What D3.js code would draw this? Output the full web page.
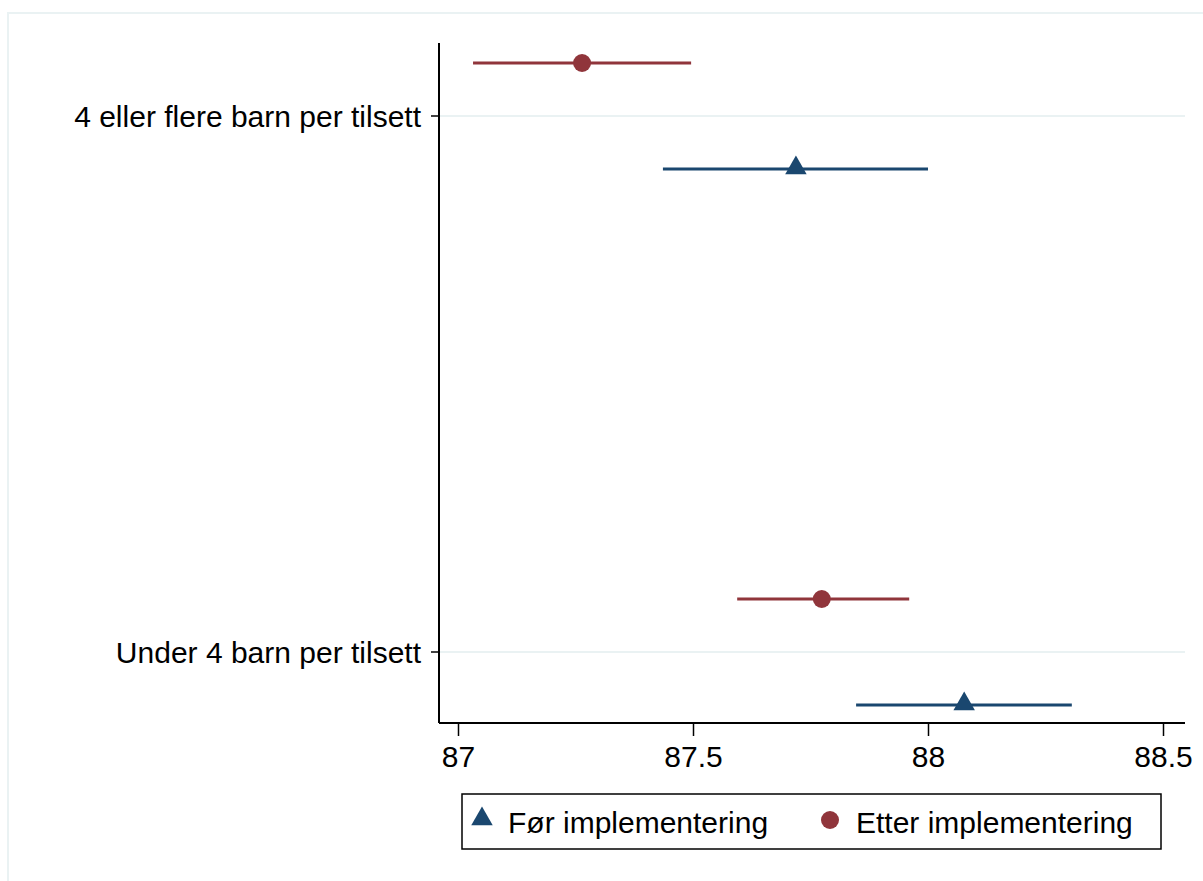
<!DOCTYPE html>
<html>
<head>
<meta charset="utf-8">
<script src="https://cdn.jsdelivr.net/npm/d3@7"></script>
<style>
  body { margin: 0; background: #fff; }
  text { font-family: "Liberation Sans", Arial, sans-serif; fill: #000; }
</style>
</head>
<body>
<script>
// categories top to bottom
var categories = ["4 eller flere barn per tilsett", "Under 4 barn per tilsett"];
var seriesNames = ["Før implementering", "Etter implementering"];
var seriesColors = ["#1a476f", "#90353b"];

// estimates and confidence bounds, one value per category
var forEst   = [87.719, 88.077];
var forLow   = [87.436, 87.847];
var forHigh  = [88.000, 88.306];
var etterEst  = [87.264, 87.774];
var etterLow  = [87.032, 87.594];
var etterHigh = [87.496, 87.960];

var xTicks = [87, 87.5, 88, 88.5];

var W = 1203, H = 881;
var svg = d3.select("body").append("svg").attr("width", W).attr("height", H);

// light outer frame
svg.append("rect").attr("x", 8).attr("y", 13).attr("width", 1200).attr("height", 880)
   .attr("fill", "none").attr("stroke", "#eaf2f3").attr("stroke-width", 2);

var plot = {left: 439, right: 1185, top: 43, bottom: 723};

var x = d3.scaleLinear().domain([87, 88.5]).range([458, 1163]);
// category index on a linear scale so both series sit either side of it
var y = d3.scaleLinear().domain([0, 1]).range([116, 652]);
var offset = 53;

// gridlines at categories
svg.selectAll("line.grid").data(categories).enter().append("line")
   .attr("class", "grid")
   .attr("x1", plot.left).attr("x2", plot.right)
   .attr("y1", function(d, i){ return y(i); })
   .attr("y2", function(d, i){ return y(i); })
   .attr("stroke", "#eaf2f3").attr("stroke-width", 2);

// x axis
var xAxis = svg.append("g").attr("transform", "translate(0," + plot.bottom + ")")
   .call(d3.axisBottom(x).tickValues(xTicks).tickSize(13).tickPadding(10)
   .tickFormat(function(d){ return d3.format("")(d); }));
xAxis.select(".domain").remove();
xAxis.append("line").attr("x1", plot.left).attr("x2", plot.right)
     .attr("stroke", "#000").attr("stroke-width", 2);
xAxis.selectAll(".tick line").attr("stroke", "#000").attr("stroke-width", 1.5);
xAxis.selectAll("text").style("font-size", "30px").attr("fill", "#000")
     .style("font-family", "'Liberation Sans', Arial, sans-serif");

// y axis
var yAxis = svg.append("g");
yAxis.append("line").attr("x1", plot.left).attr("x2", plot.left)
     .attr("y1", plot.top).attr("y2", plot.bottom)
     .attr("stroke", "#000").attr("stroke-width", 2);
yAxis.selectAll("line.tick").data(categories).enter().append("line")
     .attr("x1", plot.left - 8).attr("x2", plot.left)
     .attr("y1", function(d, i){ return y(i); })
     .attr("y2", function(d, i){ return y(i); })
     .attr("stroke", "#000").attr("stroke-width", 1.5);
yAxis.selectAll("text").data(categories).enter().append("text")
     .attr("x", plot.left - 18)
     .attr("y", function(d, i){ return y(i); })
     .attr("dy", "0.35em")
     .attr("text-anchor", "end")
     .style("font-size", "30px")
     .text(function(d){ return d; });

var triangle = d3.symbol().type(d3.symbolTriangle).size(200);

function drawSeries(est, low, high, color, dy, marker){
  var g = svg.append("g");
  g.selectAll("line").data(est).enter().append("line")
   .attr("x1", function(d, i){ return x(low[i]); })
   .attr("x2", function(d, i){ return x(high[i]); })
   .attr("y1", function(d, i){ return y(i) + dy; })
   .attr("y2", function(d, i){ return y(i) + dy; })
   .attr("stroke", color).attr("stroke-width", 3);
  if (marker === "triangle") {
    g.selectAll("path").data(est).enter().append("path")
     .attr("d", triangle)
     .attr("transform", function(d, i){ return "translate(" + x(d) + "," + (y(i) + dy - 1) + ")"; })
     .attr("fill", color);
  } else {
    g.selectAll("circle").data(est).enter().append("circle")
     .attr("cx", function(d){ return x(d); })
     .attr("cy", function(d, i){ return y(i) + dy; })
     .attr("r", 9).attr("fill", color);
  }
}

drawSeries(forEst, forLow, forHigh, seriesColors[0], offset, "triangle");
drawSeries(etterEst, etterLow, etterHigh, seriesColors[1], -offset, "circle");

// legend
var legend = svg.append("g");
legend.append("rect").attr("x", 462).attr("y", 794).attr("width", 699).attr("height", 55)
      .attr("fill", "#fff").attr("stroke", "#000").attr("stroke-width", 1.5);
var legendItems = [
  {marker: "triangle", mx: 482, tx: 508},
  {marker: "circle", mx: 830, tx: 856}
];
legendItems.forEach(function(item, i){
  if (item.marker === "triangle") {
    legend.append("path").attr("d", triangle)
          .attr("transform", "translate(" + item.mx + ",819)")
          .attr("fill", seriesColors[i]);
  } else {
    legend.append("circle").attr("cx", item.mx).attr("cy", 820).attr("r", 9)
          .attr("fill", seriesColors[i]);
  }
  legend.append("text").attr("x", item.tx).attr("y", 822).attr("dy", "0.35em")
        .style("font-size", "30px").text(seriesNames[i]);
});
</script>
</body>
</html>
